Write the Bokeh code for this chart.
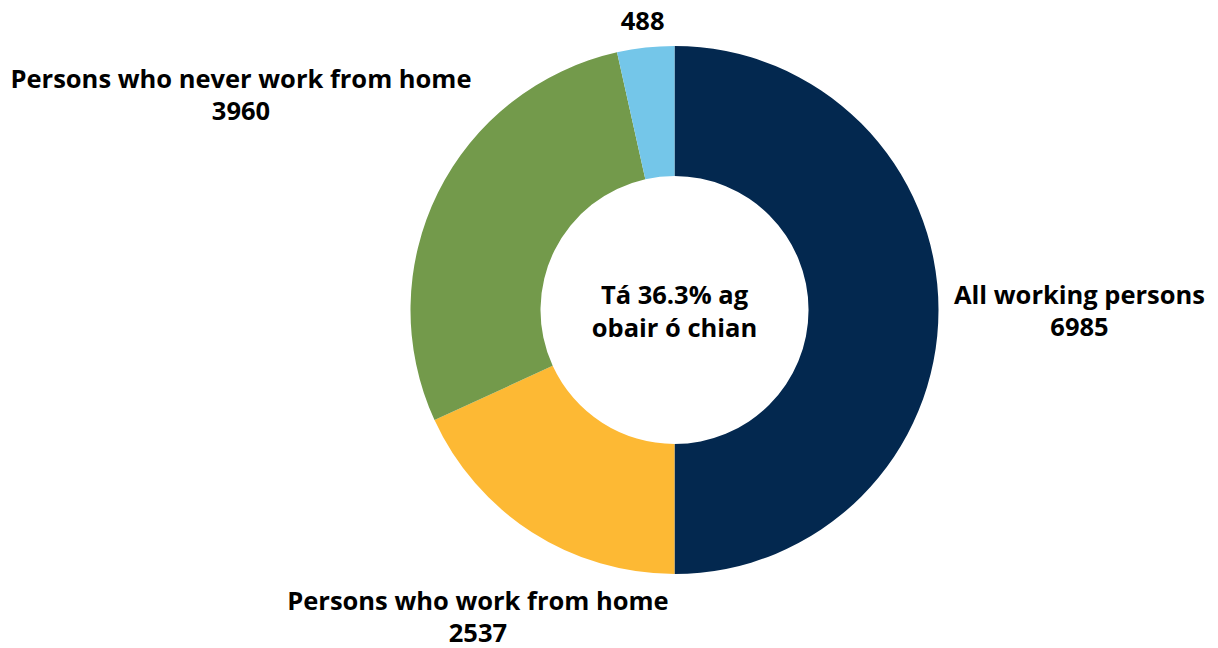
import math
from bokeh.plotting import figure
from bokeh.models import Range1d, ColumnDataSource
from bokeh.core.properties import value
from bokeh.embed import file_html
from bokeh.resources import INLINE

# ---- data ----
categories = ["All working persons", "Persons who work from home",
              "Persons who never work from home", ""]
values = [6985, 2537, 3960, 488]
colors = ["#03284F", "#FDB934", "#739A4B", "#74C6E9"]
center_line1 = "Tá {:.1f}% ag"
center_line2 = "obair ó chian"

# ---- layout ----
W, H = 1218, 648
CX, CY = 674, 338.5          # donut centre (screen-pixel-like data units)
R_OUT, R_IN = 264, 134
label_radius = [405, 364, 484, 291]
LINE_GAP = 33
FONT = "Open Sans"
FSIZE = "25.5px"

total = sum(values)
starts, ends, mids = [], [], []
cum = 0.0
for v in values:
    f0 = cum / total
    cum += v
    f1 = cum / total
    starts.append(math.pi / 2 - 2 * math.pi * f0)
    ends.append(math.pi / 2 - 2 * math.pi * f1)
    mids.append(math.pi / 2 - 2 * math.pi * (f0 + f1) / 2)

p = figure(width=W, height=H, output_backend="svg", toolbar_location=None,
           x_range=Range1d(0, W), y_range=Range1d(0, H), min_border=0)
p.axis.visible = False
p.grid.visible = False
p.outline_line_color = None
p.background_fill_color = "white"
p.border_fill_color = "white"

src = ColumnDataSource(dict(start=starts, end=ends, color=colors,
                            x=[CX] * len(values), y=[CY] * len(values)))
p.annular_wedge(x="x", y="y", inner_radius=R_IN, outer_radius=R_OUT,
                inner_radius_units="screen", outer_radius_units="screen",
                start_angle="start", end_angle="end", direction="clock",
                fill_color="color", line_color=None, source=src)

tx, ty, tt = [], [], []
for cat, v, a, r in zip(categories, values, mids, label_radius):
    bx = CX + r * math.cos(a)
    by = CY + r * math.sin(a)
    if cat:
        tx += [bx, bx]
        ty += [by + LINE_GAP / 2, by - LINE_GAP / 2]
        tt += [cat, str(v)]
    else:
        tx.append(bx)
        ty.append(by)
        tt.append(str(v))

share = values[1] / values[0] * 100
tx += [CX, CX]
ty += [CY + LINE_GAP / 2, CY - LINE_GAP / 2]
tt += [center_line1.format(share), center_line2]

p.text(x=tx, y=ty, text=tt, text_font=value(FONT), text_font_style="bold",
       text_font_size=FSIZE, text_align="center", text_baseline="middle",
       text_color="#000000")

open("out.html", "w").write(file_html(p, INLINE))
